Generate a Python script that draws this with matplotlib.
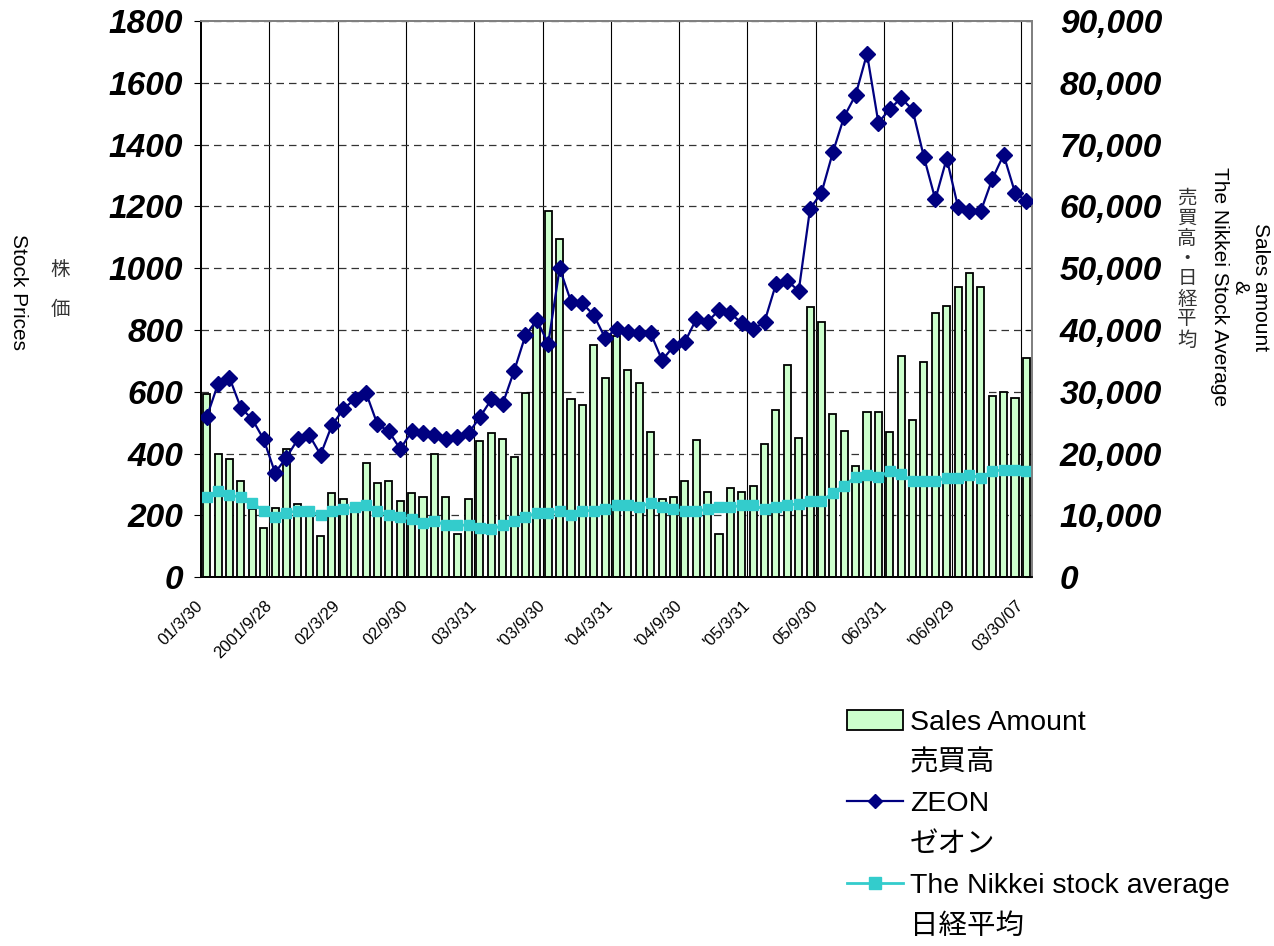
import numpy as np
import matplotlib
matplotlib.use('Agg')
import matplotlib.pyplot as plt
import matplotlib.transforms as mtransforms
from matplotlib.patches import Patch
from matplotlib.lines import Line2D
from matplotlib.ticker import FuncFormatter

plt.rcParams['font.family'] = ['Liberation Sans', 'Noto Sans CJK JP']

# one label every 6 months (category 0, 6, 12, ...)
tick_labels = ['01/3/30', '2001/9/28', '02/3/29', '02/9/30', '03/3/31', "'03/9/30",
               "'04/3/31", "'04/9/30", "'05/3/31", '05/9/30', '06/3/31', "'06/9/29",
               '03/30/07']

# ZEON stock price (left axis), monthly 2001/3 - 2007/3
zeon = [518, 626, 645, 548, 511, 446, 338, 387, 446, 460,
        396, 492, 543, 577, 596, 494, 472, 414, 472, 466,
        460, 446, 455, 466, 518, 575, 561, 667, 783, 832,
        756, 1000, 892, 886, 848, 774, 803, 795, 789, 789,
        702, 747, 761, 835, 827, 864, 854, 822, 802, 827,
        948, 960, 926, 1193, 1244, 1375, 1491, 1561, 1694, 1471,
        1515, 1551, 1513, 1360, 1223, 1355, 1198, 1185, 1185, 1288,
        1367, 1245, 1217]

# sales amount (right axis)
sales = [29700, 19900, 19100, 15500, 11000, 8000, 11200, 20700, 11900, 10500,
         6700, 13600, 12600, 11700, 18500, 15200, 15500, 12300, 13600, 12900,
         20000, 12900, 7000, 12600, 22000, 23300, 22300, 19400, 29800, 41100,
         59300, 54800, 28800, 27800, 37500, 32300, 39000, 33600, 31400, 23500,
         12600, 12900, 15500, 22200, 13800, 7000, 14400, 13700, 14800, 21600,
         27100, 34300, 22500, 43700, 41300, 26400, 23700, 18000, 26800, 26800,
         23500, 35800, 25500, 34800, 42700, 43900, 47000, 49300, 47000, 29300,
         30000, 29000, 35500]

# Nikkei average (right axis)
nikkei = [12900, 13900, 13300, 12900, 12000, 10700, 9700, 10400, 10700, 10700,
          10000, 10700, 11000, 11400, 11700, 10700, 10000, 9700, 9400, 8750,
          9100, 8400, 8400, 8400, 8000, 7700, 8400, 9100, 9700, 10400,
          10400, 10650, 10000, 10750, 10750, 11000, 11700, 11700, 11350, 12000,
          11350, 11000, 10650, 10650, 11000, 11300, 11300, 11600, 11600, 11000,
          11300, 11600, 11900, 12300, 12300, 13600, 14800, 16200, 16500, 16200,
          17100, 16700, 15500, 15500, 15500, 16100, 16100, 16500, 16100, 17100,
          17400, 17400, 17100]

legend_labels = ['Sales Amount', '売買高', 'ZEON', 'ゼオン',
                 'The Nikkei stock average', '日経平均']

x = np.arange(len(zeon))

fig = plt.figure(figsize=(12.74, 9.46), dpi=100)
ax = fig.add_axes([0.1578, 0.390, 0.6523, 0.5877])
ax2 = ax.twinx()

ax2.bar(x, sales, width=0.62, color='#ccffcc', edgecolor='black', linewidth=1.3, zorder=2)
ax2.plot(x, nikkei, color='#33cccc', lw=2, marker='s', ms=7.5, zorder=3)
ax.plot(x, zeon, color='#000080', lw=1.6, marker='D', ms=8, zorder=3)
ax.set_zorder(ax2.get_zorder() + 1)
ax.patch.set_visible(False)

ax.set_xlim(-0.5, len(x) - 0.5)
ax.set_ylim(0, 1800)
ax2.set_ylim(0, 90000)
ax.set_yticks(np.arange(0, 1801, 200))
ax2.set_yticks(np.arange(0, 90001, 10000))
ax2.yaxis.set_major_formatter(FuncFormatter(lambda v, p: f'{int(v):,}'))

# grid drawn on the bar axes so it sits behind the bars
ax2.set_axisbelow(True)
ax2.grid(axis='y', ls=(0, (6, 4)), color='#333333', lw=0.9)
for b in np.arange(6, len(x), 6) - 0.5:
    ax2.axvline(b, color='black', lw=0.8, zorder=0.5)

# rotated category labels, Excel puts their end a bit left of the category
ax.set_xticks([])
lab_trans = ax.get_xaxis_transform() + mtransforms.ScaledTranslation(-8 / 72, -15 / 72, fig.dpi_scale_trans)
for pos, txt in zip(x[::6], tick_labels):
    ax.text(pos, 0, txt, transform=lab_trans, rotation=45, ha='right', va='top',
            rotation_mode='anchor', fontsize=12)

ax.tick_params(axis='y', direction='out', length=5, pad=8)
ax2.tick_params(axis='y', direction='in', length=5, pad=20)
for lab in ax.get_yticklabels() + ax2.get_yticklabels():
    lab.set_fontsize(24)
    lab.set_fontweight('bold')
    lab.set_fontstyle('italic')

for a in (ax, ax2):
    a.spines['top'].set_color('#808080')
    a.spines['right'].set_color('#808080')
    a.spines['left'].set_color('black')
    a.spines['bottom'].set_color('black')
    for s in a.spines.values():
        s.set_linewidth(1.3)

# axis titles
fig.text(18 / 1274, 1 - 292 / 946, 'Stock Prices', rotation=270, ha='center', va='center', fontsize=15)
fig.text(60 / 1274, 1 - 270 / 946, '株', ha='center', va='center', fontsize=14, color='#333333')
fig.text(60 / 1274, 1 - 310 / 946, '価', ha='center', va='center', fontsize=14, color='#333333')
fig.text(1240 / 1274, 1 - 287 / 946, 'Sales amount\n&\nThe Nikkei Stock Average', rotation=270,
         ha='center', va='center', multialignment='center', fontsize=15, linespacing=1.1)
fig.text(1187 / 1274, 1 - 270 / 946, '\n'.join('売買高・日経平均'), ha='center', va='center',
         fontsize=14, linespacing=1.2, color='#333333')

blank = Line2D([], [], color='none')
handles = [Patch(facecolor='#ccffcc', edgecolor='black', lw=1.3), blank,
           Line2D([], [], color='#000080', marker='D', ms=7, lw=1.6), blank,
           Line2D([], [], color='#33cccc', marker='s', ms=8, lw=2), blank]
fig.legend(handles, legend_labels, loc='upper left', bbox_to_anchor=(0.665, 0.250),
           frameon=False, fontsize=20.5, handlelength=1.95, handleheight=0.7,
           handletextpad=0.25, labelspacing=0.52, borderaxespad=0, borderpad=0)

fig.savefig('out.png', dpi=100)
